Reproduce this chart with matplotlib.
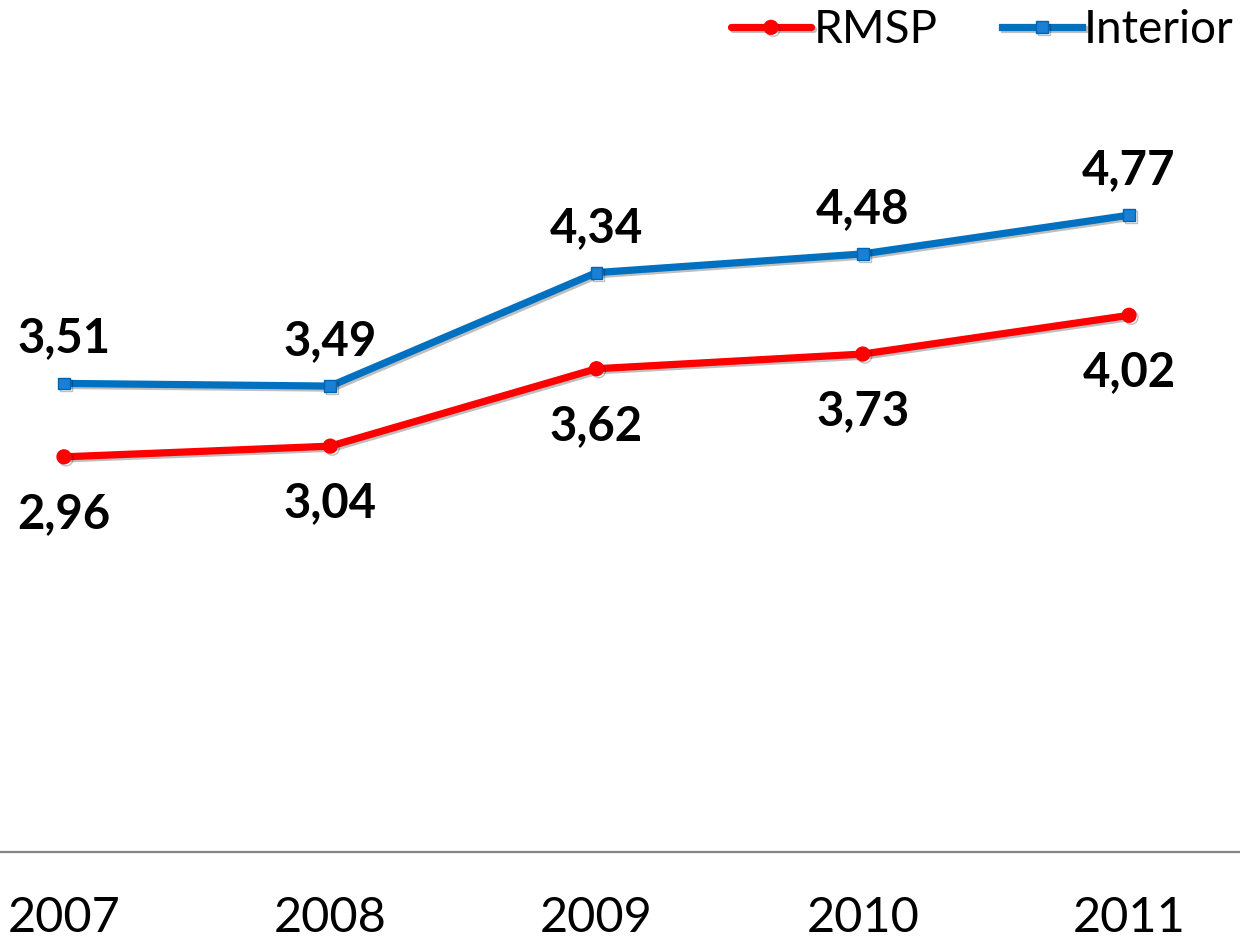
import matplotlib
matplotlib.use("Agg")
import matplotlib.pyplot as plt
import matplotlib.patheffects as pe

years = ["2007", "2008", "2009", "2010", "2011"]
rmsp = [2.96, 3.04, 3.62, 3.73, 4.02]
interior = [3.51, 3.49, 4.34, 4.48, 4.77]
rmsp_labels = ["2,96", "3,04", "3,62", "3,73", "4,02"]
interior_labels = ["3,51", "3,49", "4,34", "4,48", "4,77"]

plt.rcParams['font.family'] = ['Lato', 'DejaVu Sans']

W, H = 1240, 941
fig = plt.figure(figsize=(W/100, H/100), dpi=100)
ax = fig.add_axes([0, 89/H, 1, 1 - 89/H])

x = list(range(len(years)))
shadow = [pe.SimpleLineShadow(offset=(1.5, -1.5), shadow_color='black', alpha=0.25), pe.Normal()]

l1, = ax.plot(x, rmsp, color='#FF0000', lw=5.2, marker='o', markersize=10,
              markerfacecolor='#FF0000', markeredgecolor='#FF0000', label='RMSP',
              path_effects=shadow, solid_capstyle='round', zorder=3)
l2, = ax.plot(x, interior, color='#0070C0', lw=5.2, marker='s', markersize=8.5,
              markerfacecolor='#1A80D6', markeredgecolor='#0065B0', label='Interior',
              path_effects=shadow, zorder=3)

px = 72/100
for xi, v, t in zip(x, interior, interior_labels):
    ax.annotate(t, (xi, v), xytext=(0, 31*px), textcoords='offset points',
                ha='center', va='baseline', fontsize=34, fontweight='bold', color='black')
for xi, v, t in zip(x, rmsp, rmsp_labels):
    ax.annotate(t, (xi, v), xytext=(0, -71*px), textcoords='offset points',
                ha='center', va='baseline', fontsize=34, fontweight='bold', color='black')

step = (1129 - 64) / 4
ax.set_xlim(-64/step, (W - 64)/step)
ax.set_ylim(0, 852/133.5)

for s in ['top', 'left', 'right']:
    ax.spines[s].set_visible(False)
ax.spines['bottom'].set_color('#868686')
ax.spines['bottom'].set_linewidth(1.6)
ax.set_yticks([])
ax.set_xticks(x)
ax.set_xticklabels(years, fontsize=35)
ax.tick_params(axis='x', length=0, pad=32)

leg = fig.legend(handles=[l1, l2], loc='upper right', bbox_to_anchor=(0.995, 0.99),
                 ncol=2, frameon=False, fontsize=33, handlelength=1.75,
                 handletextpad=0.05, columnspacing=1.4, borderaxespad=0.0,
                 borderpad=0.0)

fig.savefig("out.png", dpi=100)
